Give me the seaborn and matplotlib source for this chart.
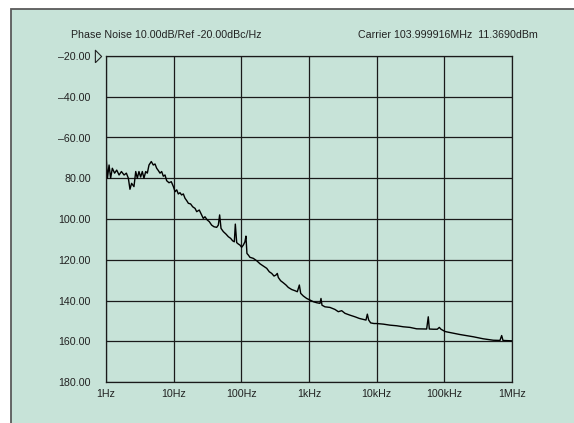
import matplotlib
matplotlib.use("Agg")
import matplotlib.pyplot as plt
from matplotlib.patches import Rectangle
import seaborn as sns
import pandas as pd

# offset frequency (Hz) and phase noise (dBc/Hz)
freq_hz = [1.0, 1.05, 1.11, 1.17, 1.24, 1.34, 1.44, 1.56, 1.69, 1.85, 2.0, 2.14, 2.26, 2.39,
           2.59, 2.75, 2.90, 3.07, 3.25, 3.44, 3.64, 3.86, 4.08, 4.32, 4.67, 5.0, 5.30, 5.61,
           5.93, 6.28, 6.65, 7.03, 7.45, 7.88, 8.53, 9.23, 9.9, 10.5, 11.1, 11.7, 12.4, 13.1,
           13.9, 14.7, 15.6, 16.5, 17.8, 19.1, 20.7, 21.9, 23.9, 25.9, 27.4, 29.0, 31.4, 33.6,
           36.4, 39.4, 43.2, 45.7, 47.8, 50.1, 54.2, 59.3, 64.3, 69.5, 74.4, 78.8, 81.5, 85.4,
           90.4, 95.5, 101, 107, 113, 117, 121, 127, 134, 150, 169, 189, 211, 237, 259, 281,
           304, 325, 340, 352, 381, 417, 457, 495, 554, 621, 672, 720, 754, 825, 925, 1035,
           1160, 1300, 1453, 1504, 1556, 1722, 2042, 2421, 2711, 3040, 3404, 4036, 4786, 5540,
           6352, 6950, 7280, 7620, 8160, 9130, 10000, 12540, 15730, 19760, 24740, 31050, 39000,
           48900, 54800, 57900, 60000, 68700, 78700, 84300, 89200, 102300, 108400, 170300,
           268000, 376500, 528800, 664000, 703500, 736000, 1000000]
noise_dbc = [-68.5, -80, -73.5, -80, -75.1, -77.5, -76, -78.4, -76.7, -78.4, -77.5, -80, -85.4,
             -82.5, -84.1, -76.7, -80, -76.7, -79.4, -76.7, -80, -76.7, -77.5, -73.5, -71.8,
             -73.5, -73.0, -75.1, -76.2, -77.5, -76.7, -79.0, -78.4, -81.2, -82.2, -81.7, -84.1,
             -86.6, -85.7, -87.7, -87.1, -88.2, -87.7, -89.8, -91, -92.3, -92.6, -94, -94.8,
             -96.4, -95.6, -98, -99.7, -98.9, -100.5, -101.3, -103, -103.8, -104.1, -103, -98,
             -104.6, -106.2, -107.4, -108.7, -109.5, -110.7, -111.2, -102.5, -111.6, -112.3,
             -112.8, -113.9, -112.8, -111.2, -108.4, -116.9, -117.7, -118.8, -119.3, -120.5,
             -122.0, -123.1, -124.2, -125.9, -126.7, -128, -127.5, -126.7, -128.7, -130.3,
             -131.3, -132.4, -133.6, -134.6, -135.2, -135.7, -132.4, -136.5, -137.8, -139,
             -139.8, -140.6, -141.1, -141.4, -139, -142.3, -143.1, -143.4, -144.4, -145.5, -145,
             -146.3, -147.2, -148, -148.8, -149.3, -149.6, -146.7, -149.6, -151, -151.3, -151.3,
             -151.6, -152.1, -152.4, -152.9, -153.2, -153.9, -154, -154, -148, -154, -154.1,
             -154.1, -153.2, -154.1, -155.2, -155.4, -156.7, -157.8, -158.8, -159.5, -159.6,
             -157.2, -159.6, -159.8]

y_ticks = [-20, -40, -60, -80, -100, -120, -140, -160, -180]
y_tick_labels = ["\u201320.00", "\u201340.00", "\u201360.00", "80.00", "100.00", "120.00",
                 "140.00", "160.00", "180.00"]
x_ticks = [1, 10, 100, 1e3, 1e4, 1e5, 1e6]
x_tick_labels = ["1Hz", "10Hz", "100Hz", "1kHz", "10kHz", "100kHz", "1MHz"]

header_left = "Phase Noise 10.00dB/Ref -20.00dBc/Hz"
header_right = "Carrier 103.999916MHz  11.3690dBm"

sns.set_style("white")
plt.rcParams['font.family'] = ['Liberation Sans', 'DejaVu Sans']

bg = '#c7e3d8'
W, H = 574, 423
fig = plt.figure(figsize=(W / 100, H / 100), dpi=100)
fig.patch.set_facecolor('white')

# mint panel with a grey frame, running off the right and bottom edges
panel = Rectangle((10.5 / W, -0.05), 1.1, 1 - 9.5 / H + 0.05, transform=fig.transFigure,
                  facecolor=bg, edgecolor='#5a5a5a', lw=1.3, zorder=-5)
fig.patches.append(panel)

ax = fig.add_axes([106 / W, 1 - 382 / H, (512 - 106) / W, (382 - 56) / H])
ax.set_zorder(2)
ax.set_facecolor('none')

df = pd.DataFrame({'freq': freq_hz, 'dbc': noise_dbc})
sns.lineplot(data=df, x='freq', y='dbc', ax=ax, color='black', lw=1.0,
             estimator=None, sort=False)

ax.set_xscale('log')
ax.set_xlim(1, 1e6)
ax.set_ylim(-180, -20)
ax.set_xticks(x_ticks)
ax.set_xticklabels(x_tick_labels)
ax.minorticks_off()
ax.set_yticks(y_ticks)
ax.set_yticklabels(y_tick_labels)
ax.tick_params(axis='both', length=0, labelsize=7.7, colors='#222222')
ax.tick_params(axis='y', pad=11)
ax.tick_params(axis='x', pad=5)
ax.grid(True, color='#1a1a1a', lw=0.9)
for s in ax.spines.values():
    s.set_color('#1a1a1a')
    s.set_linewidth(0.9)
ax.set_xlabel('')
ax.set_ylabel('')

# reference level marker (open, narrow right-pointing triangle)
tri = [(-0.5, -1), (-0.5, 1), (0.5, 0), (-0.5, -1)]
ax.plot([-0.02], [-20], transform=ax.get_yaxis_transform(), marker=tri, ms=9,
        mfc='none', mec='#222222', mew=0.8, clip_on=False)

fig.text(71 / W, 1 - 35.5 / H, header_left, fontsize=7.7, color='#222222', va='center')
fig.text(538 / W, 1 - 35.5 / H, header_right, fontsize=7.7, color='#222222', va='center',
         ha='right')

fig.savefig('out.png', dpi=100)
